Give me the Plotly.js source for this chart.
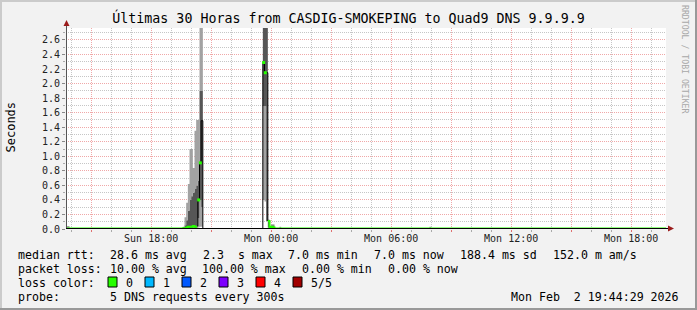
<!DOCTYPE html>
<html>
<head>
<meta charset="utf-8">
<script src="https://cdn.plot.ly/plotly-3.0.1.min.js"></script>
<style>
html,body{margin:0;padding:0;background:#f2f2f2;}
#chart{width:697px;height:310px;}
</style>
</head>
<body>
<div id="chart"></div>
<script>
// ---------- data ----------
const stepTime = [
  '2026-02-01 13:40','2026-02-01 13:45','2026-02-01 13:55',
  '2026-02-01 19:35','2026-02-01 19:40','2026-02-01 19:45','2026-02-01 19:50',
  '2026-02-01 19:55','2026-02-01 20:00','2026-02-01 20:05','2026-02-01 20:10',
  '2026-02-01 20:15','2026-02-01 20:20','2026-02-01 20:25','2026-02-01 20:30',
  '2026-02-01 20:35',
  '2026-02-01 23:35','2026-02-01 23:40','2026-02-01 23:45','2026-02-01 23:50',
  '2026-02-01 23:55',
  '2026-02-02 00:00','2026-02-02 00:05','2026-02-02 00:10',
  '2026-02-02 00:25','2026-02-02 00:30',
  '2026-02-02 07:55','2026-02-02 08:00',
  '2026-02-02 19:45'
];
// sorted ping results per step (seconds): ping1 lowest ... ping5 highest
const ping1  = [0.007,0.006,0.007, 0.006,0.006,0.006,0.006,0.006,0.006,0.007,0.008,0.010,0.020,0.030,0.030,0.007, 0.400,0.380,0.110,0.006,0.007, 0.006,0.006,0.007, 0.006,0.007, 0.006,0.007, 0.007];
const ping2  = [0.007,0.007,0.007, 0.007,0.008,0.010,0.015,0.020,0.025,0.030,0.030,0.050,0.150,0.400,0.300,0.007, 1.690,1.690,0.110,0.020,0.007, 0.007,0.007,0.007, 0.007,0.007, 0.007,0.007, 0.007];
const median = [0.007,0.007,0.007, 0.010,0.012,0.020,0.030,0.030,0.030,0.040,0.030,0.040,0.400,0.910,1.490,0.007, 2.290,2.150,2.150,0.110,0.007, 0.030,0.020,0.007, 0.007,0.007, 0.007,0.007, 0.007];
const ping4  = [0.007,0.020,0.007, 0.015,0.050,0.120,0.250,0.400,0.450,0.500,0.550,0.600,0.660,1.900,1.900,0.007, 2.900,2.900,2.900,0.120,0.007, 0.050,0.050,0.007, 0.020,0.007, 0.020,0.007, 0.007];
const ping5  = [0.007,0.040,0.007, 0.030,0.160,0.360,0.620,1.100,1.100,0.840,1.350,1.500,1.500,2.900,2.900,0.007, 2.900,2.900,2.900,0.130,0.007, 0.065,0.065,0.007, 0.030,0.007, 0.030,0.007, 0.007];

// visible loss-coloured (0 loss, green) median ticks inside the spikes
const dotTime = ['2026-02-01 20:20','2026-02-01 20:25','2026-02-01 23:35','2026-02-01 23:40'];
const dotVal  = [0.40, 0.91, 2.29, 2.15];

// axis labels
const tickVals = ['2026-02-01 15:00','2026-02-01 18:00','2026-02-01 21:00','2026-02-02 00:00','2026-02-02 03:00',
                  '2026-02-02 06:00','2026-02-02 09:00','2026-02-02 12:00','2026-02-02 15:00','2026-02-02 18:00'];
const tickText = ['','Sun 18:00','','Mon 00:00','','Mon 06:00','','Mon 12:00','','Mon 18:00'];

// legend texts
const rttText  = ['median rtt:','28.6 ms avg','2.3  s max','7.0 ms min','7.0 ms now','188.4 ms sd','152.0 m am/s'];
const lossText = ['packet loss:','10.00 % avg','100.00 % max','0.00 % min','0.00 % now'];
const lossLabels = ['0','1','2','3','4','5/5'];
const lossColors = ['#26ff00','#00b8ff','#0059ff','#7e00ff','#ff0000','#a10000'];
const probeText = ['probe:','5 DNS requests every 300s'];
const stampText = 'Mon Feb  2 19:44:29 2026';
const titleText = 'Últimas 30 Horas from CASDIG-SMOKEPING to Quad9 DNS 9.9.9.9';

// ---------- layout helpers ----------
const PL = 66, PR = 666, PT = 28, PB = 229;
const px = x => (x - PL) / (PR - PL);
const py = y => (PB - y) / (PB - PT);
const mono = 'DejaVu Sans Mono, monospace';
const LIGHT = '#a2a2a2', DARK = '#565656';

const greenMed = median.map(v => v < 0.2 ? v : null);

const base = {x: stepTime, type: 'scatter', mode: 'lines', hoverinfo: 'skip', showlegend: false};
const traces = [
  Object.assign({}, base, {y: ping1, line: {width: 0, shape: 'hv'}}),
  Object.assign({}, base, {y: ping2, line: {width: 0, shape: 'hv'}, fill: 'tonexty', fillcolor: LIGHT}),
  Object.assign({}, base, {y: ping4, line: {width: 0, shape: 'hv'}, fill: 'tonexty', fillcolor: DARK}),
  Object.assign({}, base, {y: ping5, line: {width: 0, shape: 'hv'}, fill: 'tonexty', fillcolor: LIGHT}),
  Object.assign({}, base, {y: median, line: {width: 1, shape: 'hv', color: '#000000'}}),
  Object.assign({}, base, {y: greenMed, line: {width: 2, shape: 'hv', color: lossColors[0]}, connectgaps: false}),
  {x: dotTime, y: dotVal, type: 'scatter', mode: 'markers', hoverinfo: 'skip', showlegend: false,
   xperiod: 300000, xperiodalignment: 'middle',
   marker: {symbol: 'square', size: 3, color: lossColors[0], line: {width: 0}}}
];

const annotations = [];
const shapes = [];
function txt(s, x, y, opts) {
  annotations.push(Object.assign({
    text: s, xref: 'paper', yref: 'paper', x: px(x), y: py(y),
    xanchor: 'left', yanchor: 'middle', showarrow: false,
    font: {family: mono, size: 11.6, color: '#000'}
  }, opts || {}));
}
const rttX  = [16, 107.6, 201.3, 285.8, 372, 457.8, 551.1];
rttText.forEach((s, i) => txt(s, rttX[i], 254.5));
const lossX = [16, 107.6, 200, 300, 386.2];
lossText.forEach((s, i) => txt(s, lossX[i], 268.5));
txt('loss color:', 16, 282.5);
lossLabels.forEach((s, i) => {
  const bx = 108 + i * 37.0;
  shapes.push({type: 'rect', xref: 'paper', yref: 'paper', x0: px(bx), x1: px(bx + 9), y0: py(277), y1: py(287),
               fillcolor: lossColors[i], line: {color: '#000', width: 1}});
  txt(s, bx + 15.5, 282.5);
});
txt(probeText[0], 16, 296.5);
txt(probeText[1], 107.6, 296.5);
txt(stampText, 681, 296.5, {xanchor: 'right'});

// y axis title
annotations.push({text: 'Seconds', xref: 'paper', yref: 'paper', x: px(10), y: py(127.5),
  xanchor: 'center', yanchor: 'middle', textangle: -90, showarrow: false,
  font: {family: mono, size: 12, color: '#000'}});
// side watermark
annotations.push({text: 'RRDTOOL / TOBI OETIKER', xref: 'paper', yref: 'paper', x: px(685), y: py(59),
  xanchor: 'center', yanchor: 'middle', textangle: 90, showarrow: false,
  font: {family: mono, size: 8.2, color: '#a8a8a8'}});

// axis lines and arrows
const ARROW = '#9b1c1c';
shapes.push({type: 'line', xref: 'paper', yref: 'paper', x0: px(66.5), x1: px(66.5), y0: py(228.5), y1: py(24),
             line: {color: '#555', width: 1}});
shapes.push({type: 'line', xref: 'paper', yref: 'paper', x0: px(66), x1: px(668), y0: py(228.5), y1: py(228.5),
             line: {color: '#000', width: 1}});
shapes.push({type: 'path', xref: 'paper', yref: 'paper',
  path: `M ${px(63.5)} ${py(26)} L ${px(69.5)} ${py(26)} L ${px(66.5)} ${py(20)} Z`,
  fillcolor: ARROW, line: {width: 0}});
shapes.push({type: 'path', xref: 'paper', yref: 'paper',
  path: `M ${px(668)} ${py(225.5)} L ${px(668)} ${py(231.5)} L ${px(674)} ${py(228.5)} Z`,
  fillcolor: ARROW, line: {width: 0}});
// 3D frame of the image
shapes.push({type: 'rect', xref: 'paper', yref: 'paper', x0: px(0), x1: px(697), y0: py(0), y1: py(2),
             fillcolor: '#cbcbcb', line: {width: 0}});
shapes.push({type: 'rect', xref: 'paper', yref: 'paper', x0: px(0), x1: px(2), y0: py(0), y1: py(310),
             fillcolor: '#cbcbcb', line: {width: 0}});
shapes.push({type: 'rect', xref: 'paper', yref: 'paper', x0: px(0), x1: px(697), y0: py(308), y1: py(310),
             fillcolor: '#999999', line: {width: 0}});
shapes.push({type: 'rect', xref: 'paper', yref: 'paper', x0: px(695), x1: px(697), y0: py(0), y1: py(310),
             fillcolor: '#999999', line: {width: 0}});

const MAJ = '#f0a8a8', MIN = '#c6c6c6', DOTS = '1px,1px';
const layout = {
  width: 697, height: 310,
  margin: {l: PL, r: 697 - PR, t: PT, b: 310 - PB, pad: 0},
  paper_bgcolor: '#f2f2f2', plot_bgcolor: '#ffffff',
  showlegend: false,
  title: {text: titleText, font: {family: mono, size: 13.3, color: '#000'},
          x: 0.5, xref: 'container', xanchor: 'center', y: 1 - 18.5 / 310, yref: 'container', yanchor: 'middle'},
  xaxis: {
    type: 'date', range: ['2026-02-01 13:44:29', '2026-02-02 19:44:29'], fixedrange: true,
    tickmode: 'array', tickvals: tickVals, ticktext: tickText,
    tickfont: {family: mono, size: 10, color: '#222'},
    ticks: 'outside', ticklen: 2, tickcolor: '#e07070', tickwidth: 1, ticklabelstandoff: -2,
    showgrid: true, gridcolor: MAJ, griddash: DOTS, gridwidth: 1,
    minor: {tickmode: 'linear', tick0: '2026-02-01 00:00', dtick: 3600000, showgrid: true,
            gridcolor: MIN, griddash: DOTS, gridwidth: 1, ticks: 'outside', ticklen: 2, tickcolor: '#aaaaaa'},
    showline: false, zeroline: false, automargin: false
  },
  yaxis: {
    range: [0, 2.765], fixedrange: true,
    tickmode: 'linear', tick0: 0, dtick: 0.2, tickformat: '.1f',
    tickfont: {family: mono, size: 10, color: '#222'},
    ticks: 'outside', ticklen: 3, tickcolor: '#888', tickwidth: 1,
    showgrid: true, gridcolor: MAJ, griddash: DOTS, gridwidth: 1,
    minor: {tickmode: 'linear', tick0: 0, dtick: 0.1, showgrid: true,
            gridcolor: MIN, griddash: DOTS, gridwidth: 1, ticks: 'outside', ticklen: 2, tickcolor: '#aaaaaa'},
    showline: false, zeroline: false, automargin: false
  },
  annotations: annotations,
  shapes: shapes
};

Plotly.newPlot('chart', traces, layout, {displayModeBar: false, staticPlot: true});
</script>
</body>
</html>
